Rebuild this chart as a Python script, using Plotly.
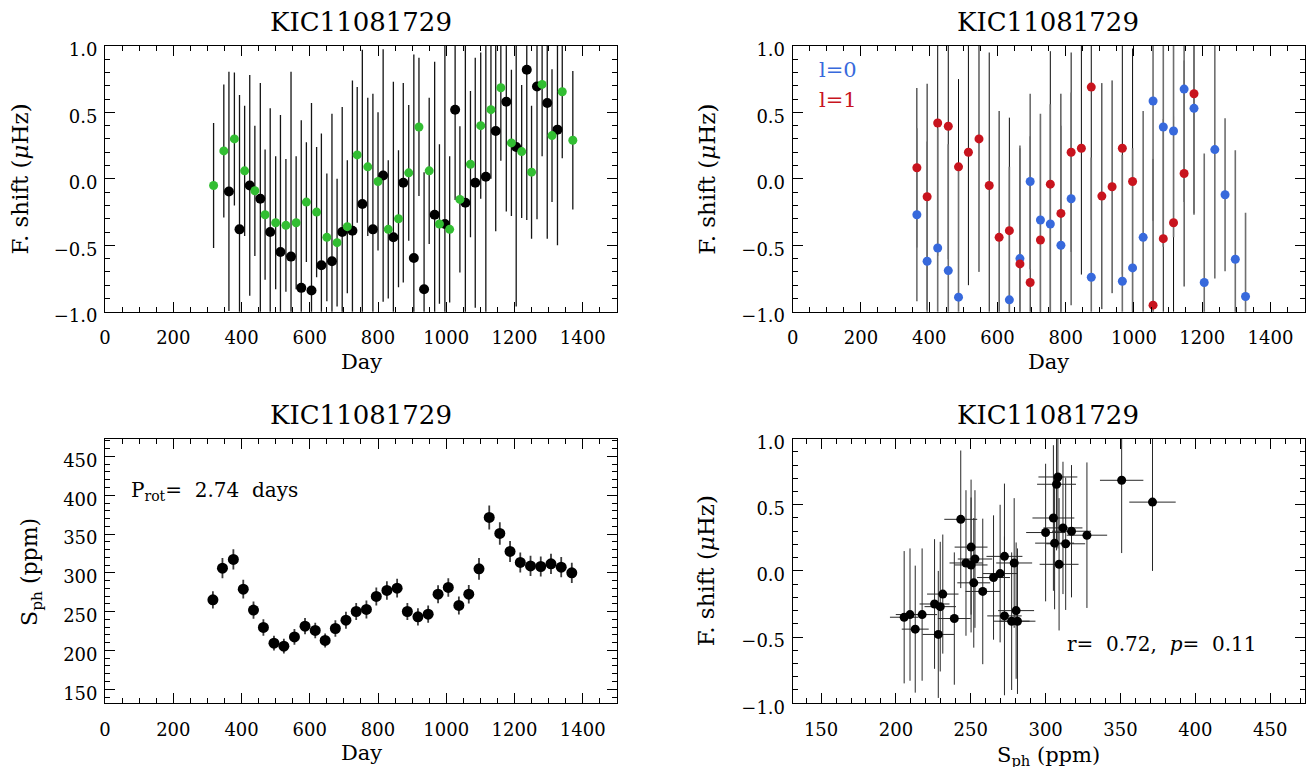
import plotly.graph_objects as go

# ---------------- data ----------------
star = "KIC11081729"

green_day = [318, 348, 379, 409, 439, 469, 500, 530, 560, 590, 620, 650, 680, 710, 739, 770, 800, 830,
             860, 890, 920, 950, 980, 1010, 1040, 1071, 1101, 1131, 1160, 1191, 1221, 1250, 1281, 1310, 1340, 1371]
green_shift = [-0.05, 0.21, 0.30, 0.06, -0.09, -0.27, -0.33, -0.35, -0.33, -0.175, -0.25, -0.44, -0.48, -0.36,
               0.18, 0.09, -0.02, -0.38, -0.30, 0.045, 0.39, 0.06, -0.34, -0.38, -0.155, 0.11, 0.40, 0.52,
               0.685, 0.27, 0.205, 0.05, 0.71, 0.325, 0.655, 0.29]
green_err = [0.47, 0.50, 0.50, 0.49, 0.49, 0.49, 0.50, 0.50, 0.50, 0.45, 0.49, 0.48, 0.48, 0.50, 0.51, 0.52,
             0.52, 0.52, 0.515, 0.51, 0.52, 0.55, 0.60, 0.55, 0.55, 0.55, 0.55, 0.52, 0.55, 0.55, 0.50, 0.50,
             0.54, 0.50, 0.50, 0.52]

black_day = [363, 394, 424, 455, 484, 514, 545, 575, 605, 634, 665, 695, 725, 754, 785, 815, 845, 874, 905,
             935, 966, 996, 1026, 1056, 1085, 1116, 1145, 1176, 1205, 1236, 1266, 1296, 1326]
black_shift = [-0.095, -0.38, -0.05, -0.15, -0.40, -0.55, -0.585, -0.82, -0.84, -0.65, -0.62, -0.40, -0.39,
               -0.19, -0.38, 0.025, -0.44, -0.03, -0.595, -0.83, -0.27, -0.34, 0.52, -0.18, -0.03, 0.015,
               0.36, 0.58, 0.24, 0.82, 0.695, 0.57, 0.37]
black_err = [0.9, 1.01, 0.83, 0.87, 0.93, 1.03, 1.39, 1.26, 1.41, 0.99, 1.11, 0.94, 1.13, 1.16, 1.02, 0.95,
             1.17, 0.75, 1.53, 0.88, 1.15, 1.35, 0.68, 1.2, 0.94, 1.1, 0.755, 0.825, 1.2, 1.13, 1.0, 1.02, 0.87]

red_day = [364, 394, 425, 456, 486, 515, 546, 576, 605, 635, 666, 696, 726, 755, 786, 816, 846, 875, 906,
           936, 966, 996, 1056, 1086, 1116, 1147, 1176]
red_shift = [0.083, -0.135, 0.42, 0.395, 0.09, 0.20, 0.30, -0.05, -0.44, -0.39, -0.64, -0.78, -0.46, -0.04,
             -0.26, 0.20, 0.23, 0.69, -0.13, -0.06, 0.23, -0.02, -0.95, -0.45, -0.33, 0.04, 0.64]
red_err = [0.6, 0.85, 1.0, 1.0, 0.66, 1.0, 1.0, 1.0, 0.95, 0.85, 0.87, 1.1, 0.9, 1.0, 0.9, 0.75, 0.95, 1.0,
           0.85, 0.8, 0.95, 1.0, 1.1, 0.9, 0.8, 0.85, 0.9]

blue_day = [364, 394, 425, 456, 486, 635, 666, 696, 726, 755, 786, 816, 875, 966, 996, 1027, 1056, 1086,
            1116, 1147, 1176, 1206, 1237, 1267, 1297, 1327]
blue_shift = [-0.27, -0.62, -0.52, -0.69, -0.89, -0.91, -0.60, -0.02, -0.31, -0.34, -0.50, -0.15, -0.74,
              -0.77, -0.67, -0.44, 0.585, 0.39, 0.36, 0.675, 0.53, -0.78, 0.22, -0.12, -0.605, -0.885]
blue_err = [0.65, 0.9, 0.9, 0.95, 1.0, 1.0, 0.85, 0.66, 0.8, 0.9, 0.9, 0.8, 0.9, 0.95, 0.9, 0.95, 0.9, 0.9,
            0.8, 0.85, 0.8, 0.97, 0.97, 0.575, 0.82, 0.63]

sph_day = [316, 344, 376, 405, 435, 464, 495, 524, 555, 586, 616, 645, 675, 706, 736, 766, 795, 826, 856,
           886, 917, 947, 976, 1006, 1037, 1066, 1096, 1126, 1157, 1187, 1217, 1247, 1277, 1307, 1337, 1368]
sph = [265.2, 306.0, 317.3, 279.0, 252.0, 229.6, 209.4, 205.5, 217.5, 231.3, 225.8, 212.9, 228.3, 239.0,
       250.2, 252.8, 269.6, 277.3, 280.3, 250.2, 243.3, 246.8, 272.5, 281.2, 258.0, 272.5, 305.2, 371.4,
       350.8, 327.6, 313.4, 309.0, 308.2, 311.6, 307.3, 300.0]
sph_err = [11, 13, 13, 12, 11, 10.5, 9.5, 9.5, 10, 10.5, 10, 9, 10.5, 11, 11, 11.5, 11.5, 12, 12, 11, 11, 11,
           11.5, 12, 11.5, 12, 14, 15.5, 14.5, 13.5, 13, 13, 13, 13, 13, 13]

day_ticks = [0, 200, 400, 600, 800, 1000, 1200, 1400]
shift_ticks = [-1.0, -0.5, 0.0, 0.5, 1.0]
sph_ticks = [150, 200, 250, 300, 350, 400, 450]

# ---------------- style ----------------
W, H = 1309, 767
FONT = "DejaVu Serif"
GREEN = "rgb(50,190,50)"
BLUE = "rgb(55,105,220)"
RED = "rgb(200,20,30)"

fig = go.Figure()


def px_x(p):
    return ((p - 5.5) / 0.9965) / W


def px_y(p):
    return 1 - ((p - 13.6) / 0.974 + 7.0) / H


XL = [px_x(104.7), px_x(617.0)]
XR = [px_x(793.0), px_x(1305.5)]
YT = [px_y(312.0), px_y(45.7)]
YB = [px_y(704.0), px_y(439.0)]


def bars(x, y, e, color, thick, xa, ya, ex=None):
    tr = go.Scatter(x=x, y=y, mode="markers", xaxis=xa, yaxis=ya, showlegend=False, hoverinfo="skip",
                    marker=dict(size=1, opacity=0),
                    error_y=dict(type="data", array=e, visible=True, color=color, thickness=thick, width=0))
    if ex is not None:
        tr.error_x = dict(type="data", array=ex, visible=True, color=color, thickness=thick, width=0)
    fig.add_trace(tr)


def pts(x, y, color, size, xa, ya):
    fig.add_trace(go.Scatter(x=x, y=y, mode="markers", xaxis=xa, yaxis=ya, showlegend=False,
                             marker=dict(size=size, color=color, line=dict(width=0))))


# top-left
bars(black_day, black_shift, black_err, "rgb(20,20,20)", 1.3, "x", "y")
bars(green_day, green_shift, green_err, "rgb(20,20,20)", 1.3, "x", "y")
pts(black_day, black_shift, "black", 10, "x", "y")
pts(green_day, green_shift, GREEN, 9, "x", "y")

# top-right
bars(red_day, red_shift, red_err, "rgb(10,10,10)", 1.0, "x2", "y2")
bars(blue_day, blue_shift, blue_err, "rgb(110,110,110)", 1.6, "x2", "y2")
pts(blue_day, blue_shift, BLUE, 9, "x2", "y2")
pts(red_day, red_shift, RED, 9, "x2", "y2")

# bottom-left
bars(sph_day, sph, sph_err, "rgb(60,60,60)", 1.8, "x3", "y3")
pts(sph_day, sph, "black", 11, "x3", "y3")

# bottom-right
bars(sph, green_shift, green_err, "rgb(40,40,40)", 1.0, "x4", "y4", ex=sph_err)
pts(sph, green_shift, "black", 9, "x4", "y4")


def axis(domain, anchor, rng, tickvals, minor, fmt=None, is_y=False):
    d = dict(domain=domain, anchor=anchor, range=rng, tickvals=tickvals, showline=True, linecolor="black",
             linewidth=1, mirror="allticks", ticks="inside", ticklen=10, tickwidth=1, tickcolor="black",
             showgrid=False, zeroline=False,
             tickfont=dict(family=FONT, size=18, color="black"),
             minor=dict(ticks="inside", ticklen=5, tickwidth=1, tickcolor="black", dtick=minor, showgrid=False))
    if fmt:
        d["tickformat"] = fmt
    if is_y:
        d["ticklabelshift"] = 4
        d["ticklabelstandoff"] = 3
    else:
        d["ticklabelstandoff"] = 10
    return d


fig.update_layout(
    width=W, height=H, margin=dict(l=0, r=0, t=0, b=0),
    paper_bgcolor="white", plot_bgcolor="white",
    xaxis=axis(XL, "y", [0, 1500], day_ticks, 50),
    yaxis=axis(YT, "x", [-1.0, 1.0], shift_ticks, 0.1, ".1f", True),
    xaxis2=axis(XR, "y2", [0, 1500], day_ticks, 50),
    yaxis2=axis(YT, "x2", [-1.0, 1.0], shift_ticks, 0.1, ".1f", True),
    xaxis3=axis(XL, "y3", [0, 1500], day_ticks, 50),
    yaxis3=axis(YB, "x3", [132, 473], sph_ticks, 10, None, True),
    xaxis4=axis(XR, "y4", [131, 473], sph_ticks, 10),
    yaxis4=axis(YB, "x4", [-1.0, 1.0], shift_ticks, 0.1, ".1f", True),
)

ann = []


def text(x, y, s, size=21, color="black", xanchor="center", angle=0):
    ann.append(dict(x=px_x(x), y=px_y(y), xref="paper", yref="paper", text=s, showarrow=False,
                    xanchor=xanchor, yanchor="middle", textangle=angle,
                    font=dict(family=FONT, size=size, color=color)))


for cx, cy in [(361, 22), (1049, 22), (361, 415), (1049, 415)]:
    text(cx, cy, star, size=26)

text(361, 362, "Day")
text(1049, 362, "Day")
text(361, 754, "Day")
text(1049, 757, "S<sub>ph</sub> (ppm)")
text(19, 179, "F. shift (<i>μ</i>Hz)", size=23, angle=-90)
text(707, 179, "F. shift (<i>μ</i>Hz)", size=23, angle=-90)
text(707, 571, "F. shift (<i>μ</i>Hz)", size=23, angle=-90)
text(31, 572, "S<sub>ph</sub> (ppm)", size=22, angle=-90)

text(817, 70, "l=0", size=21, color=BLUE, xanchor="left")
text(817, 100, "l=1", size=21, color=RED, xanchor="left")
text(129, 491, "P<sub>rot</sub>=&nbsp; 2.74&nbsp; days", size=20, xanchor="left")
text(1066, 645, "r=&nbsp; 0.72,&nbsp; <i>p</i>=&nbsp; 0.11", size=20, xanchor="left")

fig.update_layout(annotations=ann)
fig.write_html(
    "out.html",
    config={"displayModeBar": False},
    post_script=(
        "document.documentElement.style.margin='0';document.body.style.margin='0';"
        "document.documentElement.style.overflow='hidden';document.body.style.overflow='hidden';"
        "var g=document.getElementsByClassName('plotly-graph-div')[0];"
        "g.style.position='fixed';g.style.left='0px';g.style.top='0px';"
    ),
)
